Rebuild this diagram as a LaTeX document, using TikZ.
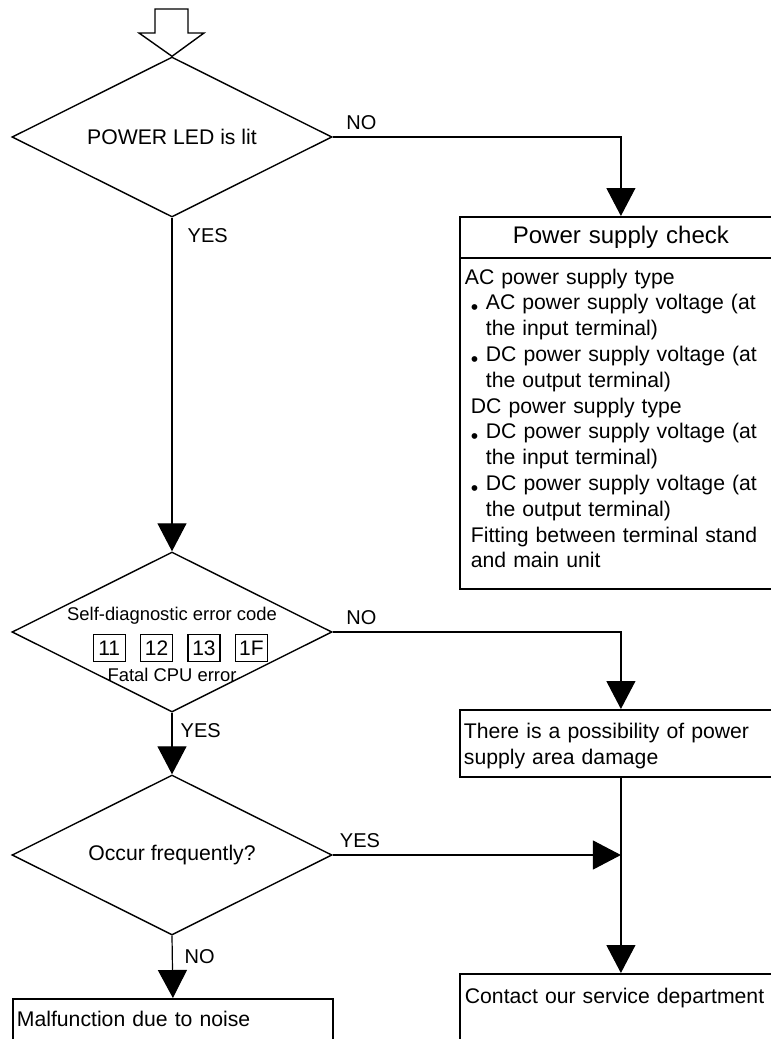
\documentclass[tikz,border=0pt]{standalone}
\usepackage{fontspec}
\setmainfont{Liberation Sans}
\usetikzlibrary{shapes.geometric, arrows.meta, positioning, calc}

\newcommand{\listdot}{\makebox[10.5pt][l]{\hspace{3pt}\raisebox{-2.5pt}{\textbullet}}}

\begin{document}
\begin{tikzpicture}[
    x=0.5pt, y=-0.5pt,
    decision/.style={diamond, draw, aspect=2, minimum width=160pt, minimum height=80pt, inner sep=0pt, line width=0.7pt, align=center, font=\fontsize{10.6}{12.9}\selectfont},
    stepbox/.style={rectangle, draw, line width=0.9pt, anchor=north west, inner xsep=2.5pt, text width=156pt, align=left, font=\fontsize{10.6}{12.9}\selectfont},
    codebox/.style={rectangle, draw, line width=0.6pt, minimum width=16pt, minimum height=13.5pt, inner sep=0pt, font=\fontsize{10.5}{12}\selectfont},
    smalltext/.style={inner sep=0pt, font=\fontsize{9.2}{11}\selectfont},
    answer/.style={font=\fontsize{10}{12}\selectfont},
    arrow/.style={-{Triangle[length=14pt, width=14.5pt]}, line width=0.6pt}
]
    \path[use as bounding box, clip] (0,0) rectangle (771,1039);

    % Left Column: Decisions
    \node[decision] (dPower) at (172,137) {POWER LED is lit};
    \node[decision] (dDiag) at (172,632) {};
    \node[decision] (dFreq) at (172,855) {Occur frequently?};

    % Error code contents
    \node[smalltext] (diagTitle) at (172,616) {Self-diagnostic error code};
    \foreach \code [count=\i] in {11,12,13,1F}
        \node[codebox] (code\i) at ({61.8+47.4*\i},648) {\code};
    \node[smalltext] (diagFatal) at (172,675) {Fatal CPU error};

    % Start marker
    \draw[line width=0.7pt] (155,9) -- (188,9) -- (188,33) -- (204,33) -- (dPower.north) -- (139,33) -- (155,33) -- cycle;

    % Right Column: Checks
    \node[stepbox, minimum height=20.5pt, align=center, font=\fontsize{12}{14}\selectfont] (pscTitle) at (459,216) {Power supply check};
    \node[stepbox, minimum height=165.5pt, yshift=0.9pt] (pscBody) at (pscTitle.south west) {AC power supply type\\
        \listdot AC power supply voltage (at\\
        \hspace*{10.5pt}the input terminal)\\
        \listdot DC power supply voltage (at\\
        \hspace*{10.5pt}the output terminal)\\
        \hspace*{3pt}DC power supply type\\
        \listdot DC power supply voltage (at\\
        \hspace*{10.5pt}the input terminal)\\
        \listdot DC power supply voltage (at\\
        \hspace*{10.5pt}the output terminal)\\
        \hspace*{3pt}Fitting between terminal stand\\
        \hspace*{3pt}and main unit\rule[-5pt]{0pt}{0pt}};
    \node[stepbox, inner xsep=2pt, text width=157pt, minimum height=33.5pt] (damage) at (459,709) {\rule{0pt}{10pt}There is a possibility of power\\supply area damage};
    \node[stepbox, inner ysep=7.3pt, text depth=60pt] (contact) at (459,973) {Contact our service department};

    % Bottom left
    \node[stepbox, inner xsep=2pt, inner ysep=6.3pt, text depth=40pt] (noise) at (12,998) {Malfunction due to noise};

    \coordinate (join) at (damage.south |- dFreq.east);

    % Connections
    \draw[arrow] (dPower.east) -| node[answer, pos=0, anchor=south west, xshift=3.2pt] {NO} (pscTitle.north);
    \draw[arrow] (dPower.south) -- node[answer, pos=0, anchor=north west, xshift=4.2pt, yshift=-1.65pt] {YES} (dDiag.north);
    \draw[arrow] (dDiag.east) -| node[answer, pos=0, anchor=south west, xshift=3.2pt] {NO} (damage.north);
    \draw[arrow] (dDiag.south) -- node[answer, pos=0, anchor=north west, xshift=0.7pt, yshift=-1.65pt] {YES} (dFreq.north);
    \draw[arrow] (dFreq.east) -- node[answer, pos=0, anchor=south west] {YES} (join);
    \draw[arrow] (damage.south) -- (contact.north);
    \draw[arrow] (dFreq.south) -- node[answer, pos=0, anchor=north west, xshift=2.7pt, yshift=-3.1pt] {NO} (noise.north);

\end{tikzpicture}
\end{document}
